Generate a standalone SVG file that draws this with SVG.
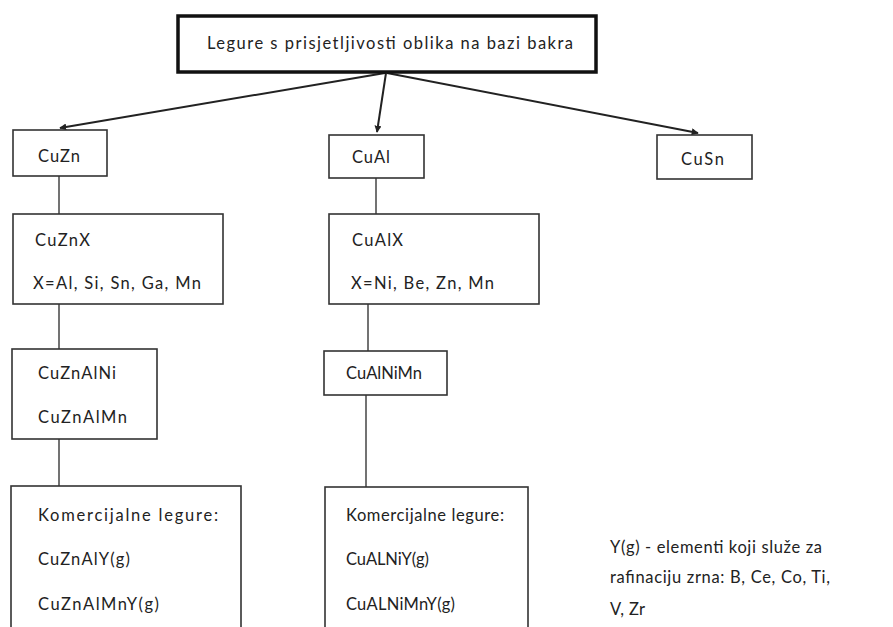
<svg xmlns="http://www.w3.org/2000/svg" width="893" height="627" viewBox="0 0 893 627">
<style>
.box{fill:#fff;stroke:#333;stroke-width:1.6}
.top{fill:#fff;stroke:#111;stroke-width:3.5}
.t{font-family:Lato,"Open Sans","Liberation Sans",sans-serif;font-size:16.5px;fill:#222}
.c{stroke:#222;stroke-width:2;fill:none}
.l{stroke:#444;stroke-width:1.5;fill:none}
</style>
<defs>
<marker id="ah" viewBox="0 0 10 10" refX="9" refY="5" markerWidth="3.5" markerHeight="3.5" orient="auto" markerUnits="strokeWidth">
<path d="M0,0 L10,5 L0,10 z" fill="#222"/>
</marker>
</defs>
<rect width="893" height="627" fill="#fff"/>
<g id="connectors">
<line class="c" x1="385" y1="73" x2="60" y2="128" marker-end="url(#ah)"/>
<line class="c" x1="386" y1="73" x2="377" y2="132" marker-end="url(#ah)"/>
<line class="c" x1="387" y1="73" x2="698" y2="133" marker-end="url(#ah)"/>
<line class="l" x1="59" y1="176" x2="59" y2="214"/>
<line class="l" x1="59" y1="304" x2="59" y2="349"/>
<line class="l" x1="59" y1="439" x2="59" y2="486"/>
<line class="l" x1="376" y1="178" x2="376" y2="214"/>
<line class="l" x1="368" y1="304" x2="368" y2="351"/>
<line class="l" x1="366" y1="395" x2="366" y2="487"/>
</g>
<g id="root">
<rect class="top" x="178" y="16" width="418" height="56"/>
<text class="t" x="207" y="49" textLength="366">Legure s prisjetljivosti oblika na bazi bakra</text>
</g>
<g id="cuzn">
<rect class="box" x="13" y="130" width="94" height="46"/>
<text class="t" x="38" y="162" textLength="42">CuZn</text>
</g>
<g id="cual">
<rect class="box" x="329" y="135" width="95" height="43"/>
<text class="t" x="352" y="163" textLength="38">CuAl</text>
</g>
<g id="cusn">
<rect class="box" x="657" y="135" width="95" height="44"/>
<text class="t" x="681" y="165" textLength="43">CuSn</text>
</g>
<g id="cuznx">
<rect class="box" x="13" y="214" width="210" height="90"/>
<text class="t" x="35" y="246" textLength="55">CuZnX</text>
<text class="t" x="33" y="289" textLength="168">X=Al, Si, Sn, Ga, Mn</text>
</g>
<g id="cualx">
<rect class="box" x="329" y="214" width="210" height="90"/>
<text class="t" x="352" y="246" textLength="51">CuAlX</text>
<text class="t" x="351" y="289" textLength="143">X=Ni, Be, Zn, Mn</text>
</g>
<g id="cuznalni">
<rect class="box" x="12" y="349" width="145" height="90"/>
<text class="t" x="38" y="379" textLength="78">CuZnAlNi</text>
<text class="t" x="38" y="423" textLength="89">CuZnAlMn</text>
</g>
<g id="cualnimn">
<rect class="box" x="324" y="351" width="123" height="44"/>
<text class="t" x="346" y="379" textLength="76">CuAlNiMn</text>
</g>
<g id="kom1">
<rect class="box" x="11" y="486" width="230" height="150"/>
<text class="t" x="38" y="521" textLength="180">Komercijalne legure:</text>
<text class="t" x="38" y="565" textLength="92">CuZnAlY(g)</text>
<text class="t" x="38" y="610" textLength="121">CuZnAlMnY(g)</text>
</g>
<g id="kom2">
<rect class="box" x="325" y="487" width="203" height="150"/>
<text class="t" x="346" y="521" textLength="158">Komercijalne legure:</text>
<text class="t" x="346" y="565" textLength="83">CuALNiY(g)</text>
<text class="t" x="346" y="610" textLength="109">CuALNiMnY(g)</text>
</g>
<g id="note">
<text class="t" x="610" y="553" textLength="212">Y(g) - elementi koji služe za</text>
<text class="t" x="610" y="583" textLength="220">rafinaciju zrna: B, Ce, Co, Ti,</text>
<text class="t" x="610" y="615" textLength="35">V, Zr</text>
</g>
</svg>
